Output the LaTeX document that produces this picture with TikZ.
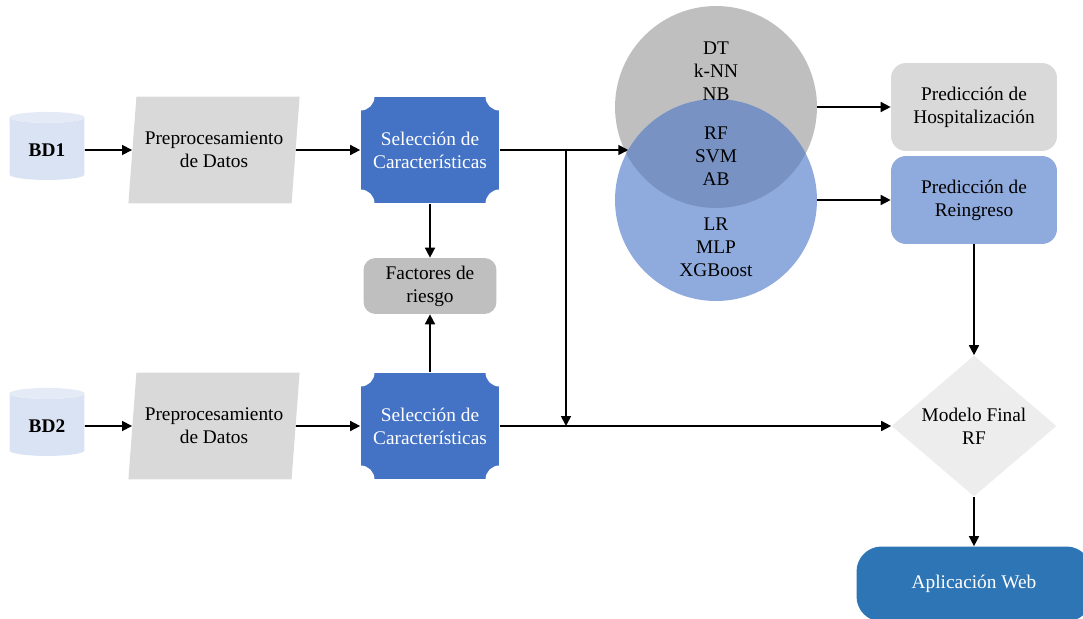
\documentclass[tikz,border=0pt]{standalone}
\usepackage{fontspec}
\setmainfont{Liberation Serif}
\usetikzlibrary{shapes.geometric,arrows.meta,positioning}

\definecolor{bdblue}{HTML}{DAE3F3}
\definecolor{bdtop}{HTML}{E4EBF6}
\definecolor{procgray}{HTML}{D9D9D9}
\definecolor{selblue}{HTML}{4472C4}
\definecolor{factgray}{HTML}{BFBFBF}
\definecolor{venngray}{HTML}{BFBFBF}
\definecolor{vennblue}{HTML}{8FAADC}
\definecolor{vennboth}{HTML}{7892C3}
\definecolor{finalgray}{HTML}{EDEDED}
\definecolor{appblue}{HTML}{2E75B6}

\begin{document}
\begin{tikzpicture}[x=0.02cm, y=-0.02cm,
		base/.style={font=\fontsize{11}{13}\selectfont, align=center, inner sep=2pt},
		bd/.style={base, cylinder, shape border rotate=90, aspect=0.25,
			minimum width=1.5cm, minimum height=1.36cm,
			cylinder uses custom fill, cylinder body fill=bdblue, cylinder end fill=bdtop,
			font=\fontsize{11}{13}\selectfont\bfseries},
		preproc/.style={base, trapezium, trapezium left angle=80, trapezium right angle=100,
			trapezium stretches=true, minimum width=3.44cm, minimum height=2.14cm, fill=procgray},
		selbox/.style={base, rectangle, fill=selblue, text=white,
			minimum width=2.78cm, minimum height=2.14cm,
			path picture={\foreach \c in {north west,north east,south west,south east}
				{\fill[white] (path picture bounding box.\c) circle (0.28cm);}}},
		factbox/.style={base, rectangle, rounded corners=0.24cm, fill=factgray,
			minimum width=2.66cm, minimum height=1.12cm},
		predbox/.style={base, rectangle, rounded corners=0.3cm,
			minimum width=3.32cm, minimum height=1.76cm},
		venn/.style={circle, minimum size=4.04cm, inner sep=0pt},
		finalbox/.style={base, diamond, fill=finalgray, minimum width=3.3cm, minimum height=2.44cm, inner sep=0pt},
		appbox/.style={base, rectangle, rounded corners=0.5cm, fill=appblue, text=white,
			minimum width=4.7cm, minimum height=1.5cm},
		arr/.style={-{Triangle[length=0.2cm,width=0.2cm]}, line width=0.95pt}]
	\useasboundingbox (0,0) rectangle (1083,619);

	% bases de datos y preprocesamiento
	\node[bd] (bd1) at (47,150) {BD1};
	\node[bd] (bd2) at (47,426) {BD2};
	\node[preproc] (pre1) at (214,150) {Preprocesamiento\\de Datos};
	\node[preproc] (pre2) at (214,426) {Preprocesamiento\\de Datos};

	% seleccion de caracteristicas
	\node[selbox] (sel1) at (430,150) {Selección de\\Características};
	\node[selbox] (sel2) at (430,426) {Selección de\\Características};
	\node[factbox] (fact) at (430,286) {Factores de\\riesgo};

	% modelos
	\node[venn, fill=venngray] (gris) at (716,107) {};
	\node[venn, fill=vennblue] (azul) at (716,200) {};
	\begin{scope}
		\clip (gris.center) circle (2.02cm);
		\fill[vennboth] (azul.center) circle (2.02cm);
	\end{scope}
	\node[base] (m1) at (716,71) {DT\\k-NN\\NB};
	\node[base] (m2) at (716,156) {RF\\SVM\\AB};
	\node[base] (m3) at (716,247) {LR\\MLP\\XGBoost};

	% predicciones y modelo final
	\node[predbox, fill=procgray] (hosp) at (974,107) {Predicción de\\Hospitalización};
	\node[predbox, fill=vennblue] (reing) at (974,200) {Predicción de\\Reingreso};
	\node[finalbox] (final) at (974,426) {Modelo Final\\RF};
	\node[appbox] (app) at (974,584) {Aplicación Web};

	% conexiones
	\draw[arr] (bd1) -- (pre1);
	\draw[arr] (bd2) -- (pre2);
	\draw[arr] (pre1) -- (sel1);
	\draw[arr] (pre2) -- (sel2);
	\draw[arr] (sel1.south) -- (fact.north);
	\draw[arr] (sel2.north) -- (fact.south);
	\draw[arr] (sel1.east) -- (sel1.east -| azul.150.3);
	\coordinate (j1) at (566,150);
	\draw[arr] (j1) -- (j1 |- sel2.east);
	\draw[arr] (sel2.east) -- (final.west);
	\draw[arr] (gris.east) -- (hosp.west);
	\draw[arr] (azul.east) -- (reing.west);
	\draw[arr] (reing) -- (final);
	\draw[arr] (final) -- (app);
\end{tikzpicture}
\end{document}
